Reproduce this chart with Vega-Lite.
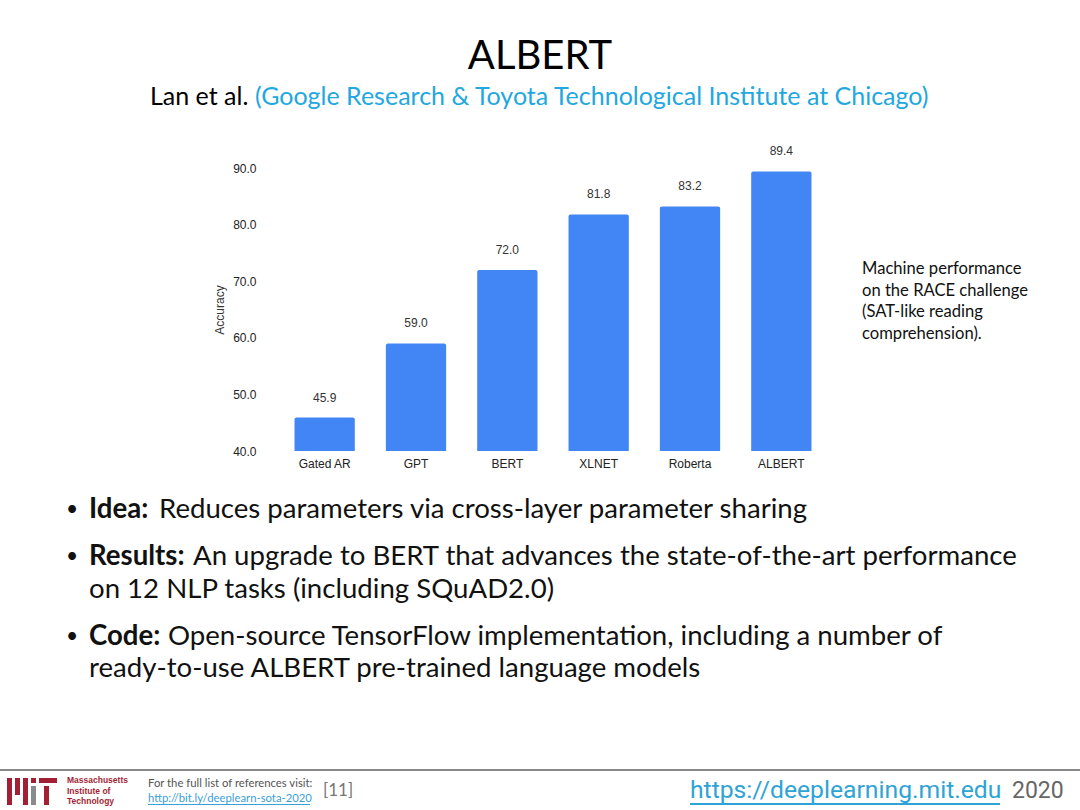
{
  "$schema": "https://vega.github.io/schema/vega-lite/v6.json",
  "width": 548,
  "height": 283,
  "autosize": {"type": "none"},
  "padding": {"left": 279, "top": 168, "right": 253, "bottom": 359},
  "background": "white",
  "config": {"view": {"stroke": null}},
  "layer": [
    {
      "data": {
        "values": [
          {"model": "Gated AR", "accuracy": 45.9},
          {"model": "GPT", "accuracy": 59.0},
          {"model": "BERT", "accuracy": 72.0},
          {"model": "XLNET", "accuracy": 81.8},
          {"model": "Roberta", "accuracy": 83.2},
          {"model": "ALBERT", "accuracy": 89.4}
        ]
      },
      "encoding": {
        "x": {
          "field": "model", "type": "nominal", "sort": null,
          "scale": {"paddingInner": 0.34, "paddingOuter": 0.17},
          "axis": {"title": null, "labelAngle": 0, "domain": false, "ticks": false, "labelPadding": 7,
                   "labelFont": "Liberation Sans", "labelFontSize": 12, "labelColor": "#222"}
        },
        "y": {
          "field": "accuracy", "type": "quantitative",
          "scale": {"domain": [40, 90], "nice": false, "zero": false},
          "axis": {"values": [40, 50, 60, 70, 80, 90], "format": ".1f", "grid": false, "domain": false, "ticks": false,
                   "labelPadding": 23, "labelFont": "Liberation Sans", "labelFontSize": 12, "labelColor": "#222",
                   "title": "Accuracy", "titleFont": "Liberation Sans", "titleFontSize": 12, "titleFontWeight": "normal",
                   "titleColor": "#333", "titlePadding": 6}
        }
      },
      "layer": [
        {"mark": {"type": "bar", "color": "#4285f4", "cornerRadiusTopLeft": 2, "cornerRadiusTopRight": 2},
         "encoding": {"y2": {"datum": 40}}},
        {"mark": {"type": "text", "dy": -20, "baseline": "middle", "font": "Liberation Sans", "fontSize": 12, "color": "#333"},
         "encoding": {"text": {"field": "accuracy", "type": "quantitative", "format": ".1f"}}}
      ]
    },
    {"data": {"values": [{"t": "ALBERT"}]},
     "mark": {"type": "text", "x": 261, "y": -111, "align": "center", "baseline": "middle", "font": "Lato", "fontSize": 40, "color": "#000"},
     "encoding": {"text": {"field": "t"}}},
    {"data": {"values": [{"t": "Lan et al."}]},
     "mark": {"type": "text", "x": -129, "y": -71, "align": "left", "baseline": "middle", "font": "Lato", "fontSize": 25, "color": "#000"},
     "encoding": {"text": {"field": "t"}}},
    {"data": {"values": [{"t": "(Google Research & Toyota Technological Institute at Chicago)"}]},
     "mark": {"type": "text", "x": -24, "y": -71, "align": "left", "baseline": "middle", "font": "Lato", "fontSize": 25, "color": "#22a7e0"},
     "encoding": {"text": {"field": "t"}}},
    {"data": {"values": [{"t": "Machine performance\non the RACE challenge\n(SAT-like reading\ncomprehension)."}]},
     "mark": {"type": "text", "x": 583, "y": 93, "align": "left", "baseline": "top", "lineBreak": "\n", "lineHeight": 21.7, "font": "Lato", "fontSize": 16.6, "color": "#111"},
     "encoding": {"text": {"field": "t"}}},
    {"data": {"values": [{"t": "•"}]},
     "mark": {"type": "text", "x": -213, "y": 342, "align": "left", "baseline": "middle", "font": "Lato", "fontSize": 21, "color": "#111"},
     "encoding": {"text": {"field": "t"}}},
    {"data": {"values": [{"t": "•"}]},
     "mark": {"type": "text", "x": -213, "y": 389, "align": "left", "baseline": "middle", "font": "Lato", "fontSize": 21, "color": "#111"},
     "encoding": {"text": {"field": "t"}}},
    {"data": {"values": [{"t": "•"}]},
     "mark": {"type": "text", "x": -213, "y": 469, "align": "left", "baseline": "middle", "font": "Lato", "fontSize": 21, "color": "#111"},
     "encoding": {"text": {"field": "t"}}},
    {"data": {"values": [{"t": "Idea:"}]},
     "mark": {"type": "text", "x": -190, "y": 342, "align": "left", "baseline": "middle", "font": "Lato", "fontWeight": "bold", "fontSize": 27.6, "color": "#111"},
     "encoding": {"text": {"field": "t"}}},
    {"data": {"values": [{"t": "Reduces parameters via cross-layer parameter sharing"}]},
     "mark": {"type": "text", "x": -120, "y": 342, "align": "left", "baseline": "middle", "font": "Lato", "fontSize": 27.6, "color": "#111"},
     "encoding": {"text": {"field": "t"}}},
    {"data": {"values": [{"t": "Results:"}]},
     "mark": {"type": "text", "x": -190, "y": 389, "align": "left", "baseline": "middle", "font": "Lato", "fontWeight": "bold", "fontSize": 27.6, "color": "#111"},
     "encoding": {"text": {"field": "t"}}},
    {"data": {"values": [{"t": "An upgrade to BERT that advances the state-of-the-art performance"}]},
     "mark": {"type": "text", "x": -86, "y": 389, "align": "left", "baseline": "middle", "font": "Lato", "fontSize": 27.6, "color": "#111"},
     "encoding": {"text": {"field": "t"}}},
    {"data": {"values": [{"t": "on 12 NLP tasks (including SQuAD2.0)"}]},
     "mark": {"type": "text", "x": -190, "y": 422, "align": "left", "baseline": "middle", "font": "Lato", "fontSize": 27.6, "color": "#111"},
     "encoding": {"text": {"field": "t"}}},
    {"data": {"values": [{"t": "Code:"}]},
     "mark": {"type": "text", "x": -190, "y": 469, "align": "left", "baseline": "middle", "font": "Lato", "fontWeight": "bold", "fontSize": 27.6, "color": "#111"},
     "encoding": {"text": {"field": "t"}}},
    {"data": {"values": [{"t": "Open-source TensorFlow implementation, including a number of"}]},
     "mark": {"type": "text", "x": -111, "y": 469, "align": "left", "baseline": "middle", "font": "Lato", "fontSize": 27.6, "color": "#111"},
     "encoding": {"text": {"field": "t"}}},
    {"data": {"values": [{"t": "ready-to-use ALBERT pre-trained language models"}]},
     "mark": {"type": "text", "x": -190, "y": 501, "align": "left", "baseline": "middle", "font": "Lato", "fontSize": 27.6, "color": "#111"},
     "encoding": {"text": {"field": "t"}}},
    {"data": {"values": [{}]},
     "mark": {"type": "rect", "x": -279, "x2": 801, "y": 601, "y2": 603, "color": "#888"},
     "encoding": {}},
    {"data": {"values": [{}]}, "mark": {"type": "rect", "x": -272, "x2": -267, "y": 610, "y2": 637, "color": "#a31f34"}, "encoding": {}},
    {"data": {"values": [{}]}, "mark": {"type": "rect", "x": -264, "x2": -259, "y": 610, "y2": 627, "color": "#a31f34"}, "encoding": {}},
    {"data": {"values": [{}]}, "mark": {"type": "rect", "x": -256, "x2": -251, "y": 610, "y2": 637, "color": "#a31f34"}, "encoding": {}},
    {"data": {"values": [{}]}, "mark": {"type": "rect", "x": -248, "x2": -243, "y": 610, "y2": 615, "color": "#a31f34"}, "encoding": {}},
    {"data": {"values": [{}]}, "mark": {"type": "rect", "x": -248, "x2": -243, "y": 618, "y2": 637, "color": "#8a8b8c"}, "encoding": {}},
    {"data": {"values": [{}]}, "mark": {"type": "rect", "x": -240, "x2": -222, "y": 610, "y2": 615, "color": "#a31f34"}, "encoding": {}},
    {"data": {"values": [{}]}, "mark": {"type": "rect", "x": -235, "x2": -230, "y": 618, "y2": 637, "color": "#a31f34"}, "encoding": {}},
    {"data": {"values": [{"t": "Massachusetts\nInstitute of\nTechnology"}]},
     "mark": {"type": "text", "x": -212, "y": 608, "align": "left", "baseline": "top", "lineBreak": "\n", "lineHeight": 10.5, "font": "Liberation Sans", "fontWeight": "bold", "fontSize": 8.5, "color": "#a31f34"},
     "encoding": {"text": {"field": "t"}}},
    {"data": {"values": [{"t": "For the full list of references visit:"}]},
     "mark": {"type": "text", "x": -131, "y": 616, "align": "left", "baseline": "middle", "font": "Lato", "fontSize": 11.3, "color": "#555"},
     "encoding": {"text": {"field": "t"}}},
    {"data": {"values": [{"t": "http://bit.ly/deeplearn-sota-2020"}]},
     "mark": {"type": "text", "x": -131, "y": 631, "align": "left", "baseline": "middle", "font": "Lato", "fontSize": 11.3, "color": "#3aa0d8"},
     "encoding": {"text": {"field": "t"}}},
    {"data": {"values": [{}]},
     "mark": {"type": "rect", "x": -131, "x2": 31, "y": 636, "y2": 637, "color": "#3aa0d8"},
     "encoding": {}},
    {"data": {"values": [{"t": "[11]"}]},
     "mark": {"type": "text", "x": 44, "y": 623, "align": "left", "baseline": "middle", "font": "Lato", "fontSize": 17, "color": "#777"},
     "encoding": {"text": {"field": "t"}}},
    {"data": {"values": [{"t": "https://deeplearning.mit.edu"}]},
     "mark": {"type": "text", "x": 411, "y": 623, "align": "left", "baseline": "middle", "font": "Roboto", "fontSize": 24.7, "color": "#2ea3d6"},
     "encoding": {"text": {"field": "t"}}},
    {"data": {"values": [{}]},
     "mark": {"type": "rect", "x": 411, "x2": 721, "y": 635, "y2": 637, "color": "#2ea3d6"},
     "encoding": {}},
    {"data": {"values": [{"t": "2020"}]},
     "mark": {"type": "text", "x": 733, "y": 623, "align": "left", "baseline": "middle", "font": "Roboto", "fontSize": 23, "color": "#666"},
     "encoding": {"text": {"field": "t"}}}
  ]
}
